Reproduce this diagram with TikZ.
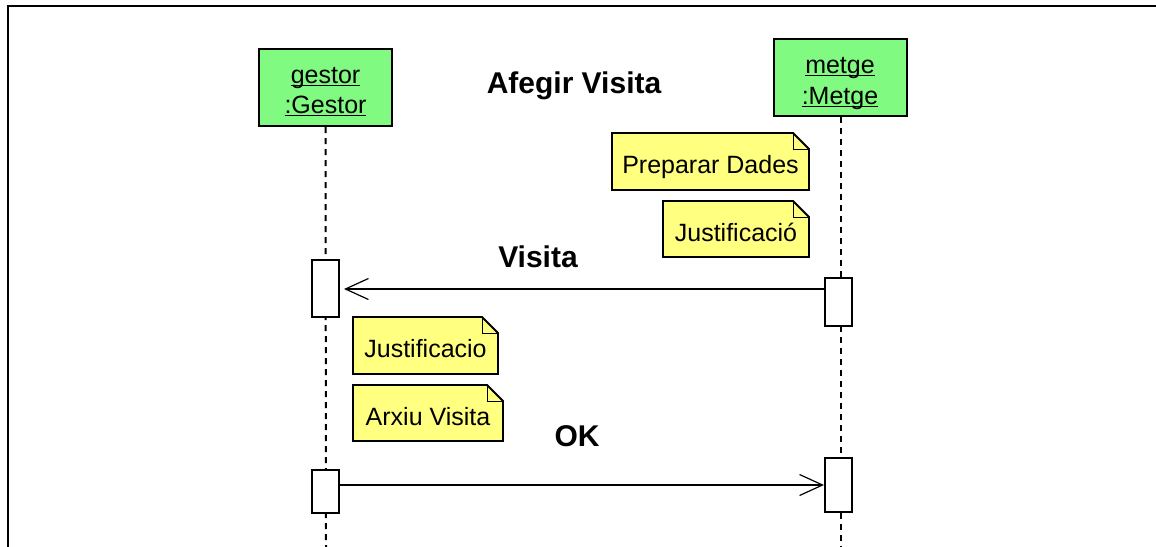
\documentclass[tikz,border=0pt]{standalone}
\usepackage{fontspec}
\setmainfont{Liberation Sans}
\usetikzlibrary{arrows.meta}

\definecolor{objfill}{RGB}{128,250,128}
\definecolor{notefill}{RGB}{255,255,128}

% underlined object name, with the rule crossing the descenders
\newsavebox\objnamebox
\newcommand\objname[1]{\sbox\objnamebox{#1}\rlap{\rule[-3pt]{\wd\objnamebox}{1.5pt}}\usebox\objnamebox}

\tikzset{
  objbox/.style={draw, line width=2pt, fill=objfill, minimum width=133pt,
    minimum height=77pt, inner sep=0pt},
  objtext/.style={anchor=base, font=\fontsize{25}{30}\selectfont, inner sep=0pt},
  lifeline/.style={line width=2pt, dash pattern=on 6pt off 5pt},
  actbox/.style={draw, line width=2pt, fill=white, minimum width=27pt, inner sep=0pt},
  msg/.style={line width=1.5pt,
    -{Straight Barb[length=23pt,width=21pt,line width=1.2pt]}},
  msglabel/.style={anchor=base, font=\fontsize{30}{36}\selectfont\bfseries, inner sep=0pt},
  notebg/.style={fill=notefill, draw, line width=1.8pt, line join=miter},
  notefold/.style={line width=1pt},
  notetext/.style={anchor=base, font=\fontsize{25}{30}\selectfont, inner sep=0pt},
}

% note with a folded corner: name, left, top, right, bottom, text
\newcommand\notebox[6]{%
  \draw[notebg] (#2,#3) -- ({#4-16},#3) -- (#4,{#3+16}) -- (#4,#5) -- (#2,#5) -- cycle;
  \draw[notefold] ({#4-16},#3) -- ({#4-16},{#3+16}) -- (#4,{#3+16});
  \node[notetext] (#1) at ({(#2+#4)/2},{#3+40}) {#6};
}

\begin{document}
\begin{tikzpicture}[x=1pt,y=-1pt]
  \useasboundingbox (0,0) rectangle (1156,546);

  % frame
  \draw[line width=2.5pt] (8,560) -- (8,6) -- (1170,6);

  % objects
  \node[objbox] (gestor) at (325.5,87.5) {};
  \node[objtext] (gestorA) at (325.5,83) {\objname{gestor}};
  \node[objtext] (gestorB) at (325.5,113) {\objname{:Gestor}};

  \node[objbox] (metge) at (840,77.5) {};
  \node[objtext] (metgeA) at (840,73) {\objname{metge}};
  \node[objtext] (metgeB) at (840,104) {\objname{:Metge}};

  % lifelines
  \coordinate (gestorEnd) at (326,548);
  \coordinate (metgeEnd) at (840.5,548);
  \draw[lifeline] (gestor.south) -- (gestorEnd);
  \draw[lifeline] ([xshift=0.5pt]metge.south) -- (metgeEnd);

  % title
  \node[msglabel] (title) at (574,93) {Afegir Visita};

  % notes
  \notebox{noteA}{612}{133}{809}{190}{Preparar Dades}
  \notebox{noteB}{663}{201}{809}{257}{Justificació}
  \notebox{noteC}{353}{317}{498}{374}{Justificacio}
  \notebox{noteD}{353}{385}{503}{441}{Arxiu Visita}

  % activations
  \node[actbox, minimum height=57pt] (ga1) at (325.5,288) {};
  \node[actbox, minimum height=48pt] (ma1) at (838.5,301.5) {};
  \node[actbox, minimum height=43pt] (ga2) at (325.5,491) {};
  \node[actbox, minimum height=54pt] (ma2) at (838.5,484.5) {};

  % messages
  \draw[msg, shorten >=4pt] (ma1.west |- 0,289) -- (ga1.east |- 0,289);
  \node[msglabel] (lblVisita) at (538,267) {Visita};

  \draw[msg] (ga2.east |- 0,485) -- (ma2.west |- 0,485);
  \node[msglabel] (lblOK) at (577,446) {OK};
\end{tikzpicture}
\end{document}
